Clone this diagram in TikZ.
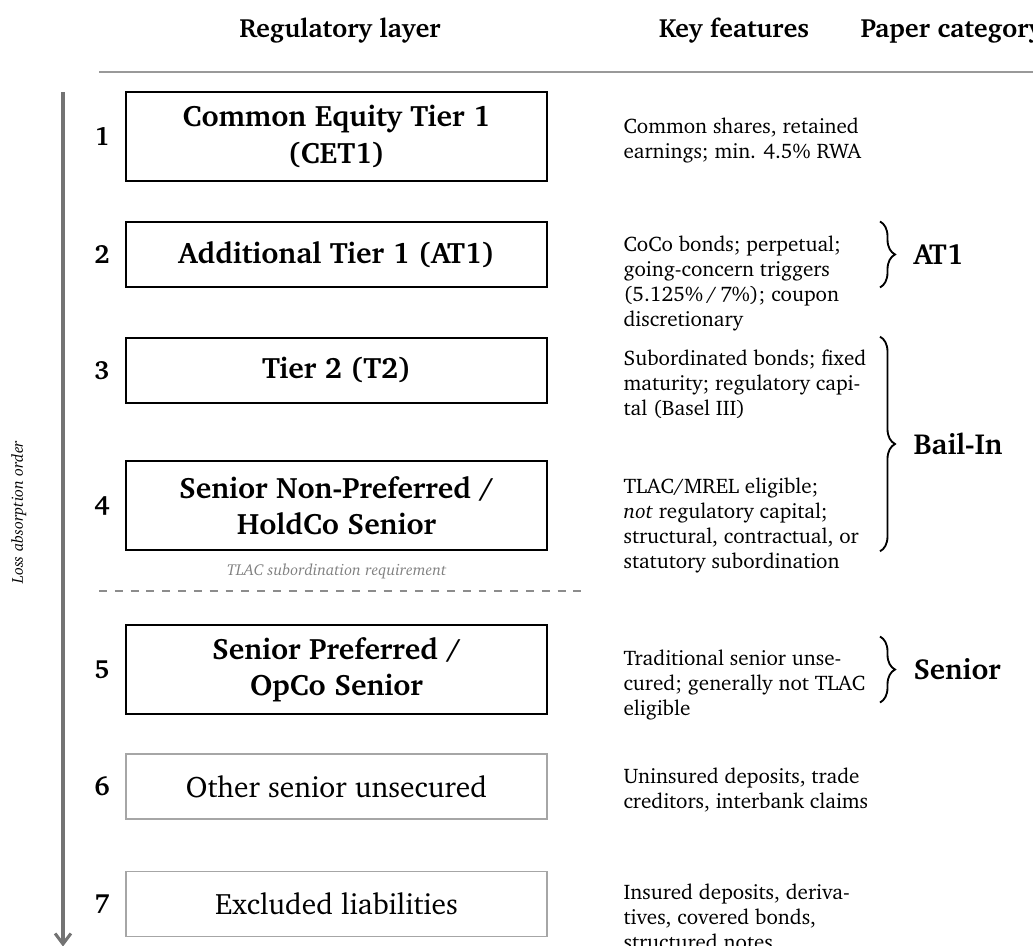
\documentclass[tikz,border=0pt]{standalone}
\usepackage[T1]{fontenc}
\usepackage{charter}
\usetikzlibrary{positioning,calc,arrows.meta,decorations.pathreplacing}

\begin{document}
\begin{tikzpicture}[
  layer/.style={rectangle, draw, line width=0.9pt, minimum width=5.61cm, minimum height=0.87cm, align=center, font=\fontsize{11.2}{13.8}\selectfont\bfseries},
  tall/.style={minimum height=1.19cm},
  plain/.style={rectangle, draw=black!35, line width=0.6pt, minimum width=5.61cm, minimum height=0.87cm, font=\fontsize{11.2}{13.8}\selectfont},
  num/.style={font=\bfseries},
  feat/.style={anchor=north west, inner sep=0pt, align=left, font=\footnotesize},
  cat/.style={anchor=west, inner sep=0pt, font=\fontsize{11}{13.6}\selectfont\bfseries},
  head/.style={anchor=base, inner sep=0pt, font=\bfseries},
  note/.style={font=\fontsize{6}{7}\selectfont\itshape},
  curly/.style={decorate, decoration={brace, amplitude=5.7pt}, line width=0.7pt}
]
\useasboundingbox (0,0) rectangle (13.773,-12.613);

% column heads
\node[head] (hl) at (4.533,-0.5) {Regulatory layer};
\node[head] (hk) at (9.787,-0.5) {Key features};
\node[head, anchor=base west] (hp) at (11.467,-0.5) {Paper category};
\coordinate (r0) at (1.32,-0.96);
\coordinate (r1) at (13.9,-0.96);
\draw[black!40, line width=0.9pt] (r0) -- (r1);

% layers
\node[layer, tall] (b1) at (4.487,-1.82) {Common Equity Tier 1\\(CET1)};
\node[layer] (b2) at (4.487,-3.393) {Additional Tier 1 (AT1)};
\node[layer] (b3) at (4.487,-4.94) {Tier 2 (T2)};
\node[layer, tall] (b4) at (4.487,-6.74) {Senior Non-Preferred /\\HoldCo Senior};
\node[layer, tall] (b5) at (4.487,-8.927) {Senior Preferred /\\OpCo Senior};
\node[plain] (b6) at (4.487,-10.487) {Other senior unsecured};
\node[plain] (b7) at (4.487,-12.053) {Excluded liabilities};

% ranks
\foreach \i in {1,...,7}
  \node[num] (n\i) at (1.36,0 |- b\i) {\i};

% loss order
\coordinate (a0) at (0.84,-1.227);
\coordinate (a1) at (0.84,-12.62);
\draw[black!55, line width=1.15pt, -{Straight Barb[length=4pt,width=6pt]}] (a0) -- (a1);
\node[note, rotate=90] (lo) at (0.25,-6.83) {Loss absorption order};

% TLAC line
\coordinate (d0) at (1.32,-7.88);
\coordinate (d1) at (7.8,-7.88);
\draw[black!45, dashed, line width=0.7pt] (d0) -- (d1);
\node[note, text=black!50] (tl) at (4.49,-7.613) {TLAC subordination requirement};

% key features
\node[feat] (f1) at (8.307,-1.56) {Common shares, retained\\earnings; min. 4.5\% RWA};
\node[feat] (f2) at (8.307,-3.133) {CoCo bonds; perpetual;\\going-concern triggers\\(5.125\%\,/\,7\%); coupon\\discretionary};
\node[feat] (f3) at (8.307,-4.653) {Subordinated bonds; fixed\\maturity; regulatory capi-\\tal (Basel III)};
\node[feat] (f4) at (8.307,-6.36) {TLAC/MREL eligible;\\\emph{not} regulatory capital;\\structural, contractual, or\\statutory subordination};
\node[feat] (f5) at (8.307,-8.653) {Traditional senior unse-\\cured; generally not TLAC\\eligible};
\node[feat] (f6) at (8.307,-10.227) {Uninsured deposits, trade\\creditors, interbank claims};
\node[feat] (f7) at (8.307,-11.773) {Insured deposits, deriva-\\tives, covered bonds,\\structured notes};

% categories
\coordinate (bx) at (11.733,0);
\draw[curly] ($(b2.center -| bx)+(0,0.44)$) -- ($(b2.center -| bx)-(0,0.44)$);
\draw[curly] (b3.north -| bx) -- (b4.south -| bx);
\draw[curly] ($(b5.center -| bx)+(0,0.44)$) -- ($(b5.center -| bx)-(0,0.44)$);
\node[cat] (c1) at (12.173,0 |- b2) {AT1};
\node[cat] (c2) at ($(12.173,0 |- b3.north)!0.5!(12.173,0 |- b4.south)$) {Bail-In};
\node[cat] (c3) at (12.173,0 |- b5) {Senior};
\end{tikzpicture}
\end{document}
